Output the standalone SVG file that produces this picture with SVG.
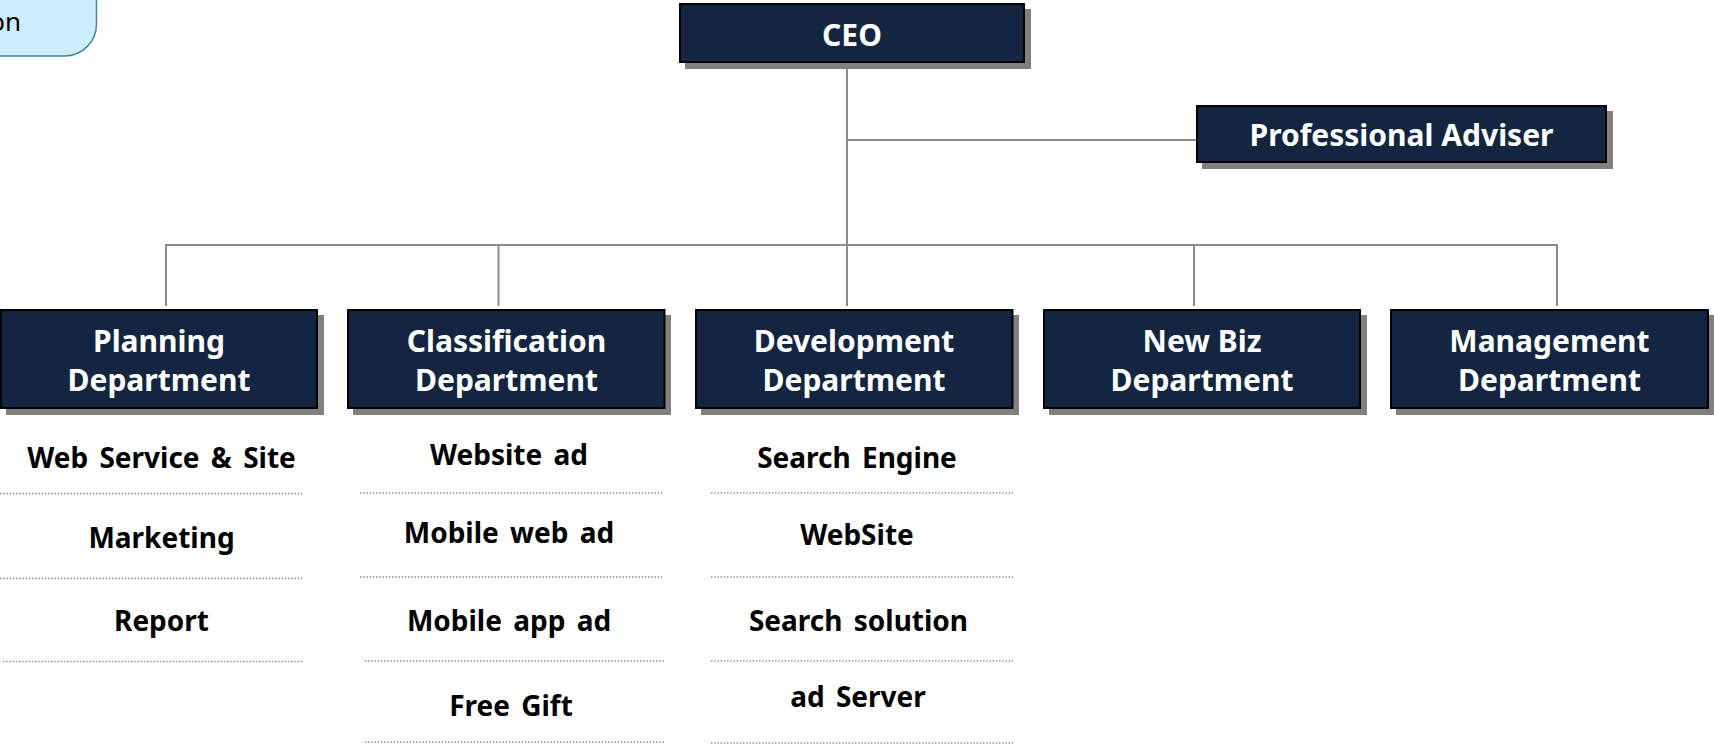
<svg xmlns="http://www.w3.org/2000/svg" width="1714" height="745" viewBox="0 0 1714 745">
  <style>
    .box { fill: #132540; stroke: #000; stroke-width: 2; }
    .shadow { fill: #808080; }
    .title { font-family: "Noto Sans", "Open Sans", sans-serif; font-weight: bold; font-size: 30px; fill: #fff; text-anchor: middle; }
    .item { font-family: "Noto Sans", "Open Sans", sans-serif; font-weight: bold; font-size: 28px; word-spacing: 4px; fill: #000; text-anchor: middle; }
    .wire { stroke: #8c8c8c; stroke-width: 2; fill: none; }
    .dots { stroke: #8a8a8a; stroke-width: 1.4; stroke-dasharray: 1.4 1.8; fill: none; }
  </style>
  <rect width="1714" height="745" fill="#fff"/>

  <!-- partially visible label in the top-left corner -->
  <g id="corner-label">
    <rect x="-200" y="-30" width="296.5" height="86" rx="32" ry="32" fill="#cdeeff" stroke="#3d8c99" stroke-width="1.5"/>
    <text x="21" y="31" font-family="Noto Sans, sans-serif" font-size="26" fill="#000" text-anchor="end">on</text>
  </g>

  <!-- connectors -->
  <g id="connectors">
    <line class="wire" x1="847" y1="63" x2="847" y2="306"/>
    <line class="wire" x1="847" y1="140" x2="1196" y2="140"/>
    <line class="wire" x1="166" y1="245" x2="1557" y2="245"/>
    <line class="wire" x1="166" y1="244" x2="166" y2="306"/>
    <line class="wire" x1="498.5" y1="245" x2="498.5" y2="306"/>
    <line class="wire" x1="1194" y1="245" x2="1194" y2="306"/>
    <line class="wire" x1="1557" y1="244" x2="1557" y2="306"/>
  </g>

  <g id="ceo">
    <rect class="shadow" x="685" y="9" width="346" height="60"/>
    <rect class="box" x="680" y="4" width="344" height="58"/>
    <text class="title" x="852" y="46">CEO</text>
  </g>

  <g id="adviser">
    <rect class="shadow" x="1202" y="111" width="411" height="58"/>
    <rect class="box" x="1197" y="106" width="409" height="56"/>
    <text class="title" x="1401.5" y="146">Professional Adviser</text>
  </g>

  <g id="planning">
    <rect class="shadow" x="6" y="315" width="318" height="100"/>
    <rect class="box" x="1" y="310" width="316" height="98"/>
    <text class="title" x="159" y="352">Planning</text>
    <text class="title" x="159" y="391">Department</text>
    <text class="item" x="161.5" y="468">Web Service &amp; Site</text>
    <line class="dots" x1="0" y1="493.5" x2="302" y2="493.5"/>
    <text class="item" x="161.5" y="548">Marketing</text>
    <line class="dots" x1="0" y1="578.5" x2="302" y2="578.5"/>
    <text class="item" x="161.5" y="631">Report</text>
    <line class="dots" x1="3" y1="661.5" x2="304" y2="661.5"/>
  </g>

  <g id="classification">
    <rect class="shadow" x="353" y="315" width="318" height="100"/>
    <rect class="box" x="348" y="310" width="316.5" height="98"/>
    <text class="title" x="506.5" y="352">Classification</text>
    <text class="title" x="506.5" y="391">Department</text>
    <text class="item" x="509" y="465">Website ad</text>
    <line class="dots" x1="360" y1="493" x2="662" y2="493"/>
    <text class="item" x="509" y="543">Mobile web ad</text>
    <line class="dots" x1="360" y1="577" x2="662" y2="577"/>
    <text class="item" x="509" y="631">Mobile app ad</text>
    <line class="dots" x1="365" y1="661" x2="666" y2="661"/>
    <text class="item" x="511" y="716">Free Gift</text>
    <line class="dots" x1="365" y1="742" x2="666" y2="742"/>
  </g>

  <g id="development">
    <rect class="shadow" x="701" y="315" width="318" height="100"/>
    <rect class="box" x="696" y="310" width="316.5" height="98"/>
    <text class="title" x="854" y="352">Development</text>
    <text class="title" x="854" y="391">Department</text>
    <text class="item" x="857" y="468">Search Engine</text>
    <line class="dots" x1="711" y1="493" x2="1013" y2="493"/>
    <text class="item" x="857" y="545">WebSite</text>
    <line class="dots" x1="711" y1="577" x2="1013" y2="577"/>
    <text class="item" x="858.5" y="631">Search solution</text>
    <line class="dots" x1="711" y1="661" x2="1013" y2="661"/>
    <text class="item" x="858" y="707">ad Server</text>
    <line class="dots" x1="711" y1="743" x2="1013" y2="743"/>
  </g>

  <g id="new-biz">
    <rect class="shadow" x="1049" y="315" width="318" height="100"/>
    <rect class="box" x="1044" y="310" width="316" height="98"/>
    <text class="title" x="1202" y="352">New Biz</text>
    <text class="title" x="1202" y="391">Department</text>
  </g>

  <g id="management">
    <rect class="shadow" x="1396" y="315" width="318" height="100"/>
    <rect class="box" x="1391" y="310" width="317" height="98"/>
    <text class="title" x="1549.5" y="352">Management</text>
    <text class="title" x="1549.5" y="391">Department</text>
  </g>
</svg>
